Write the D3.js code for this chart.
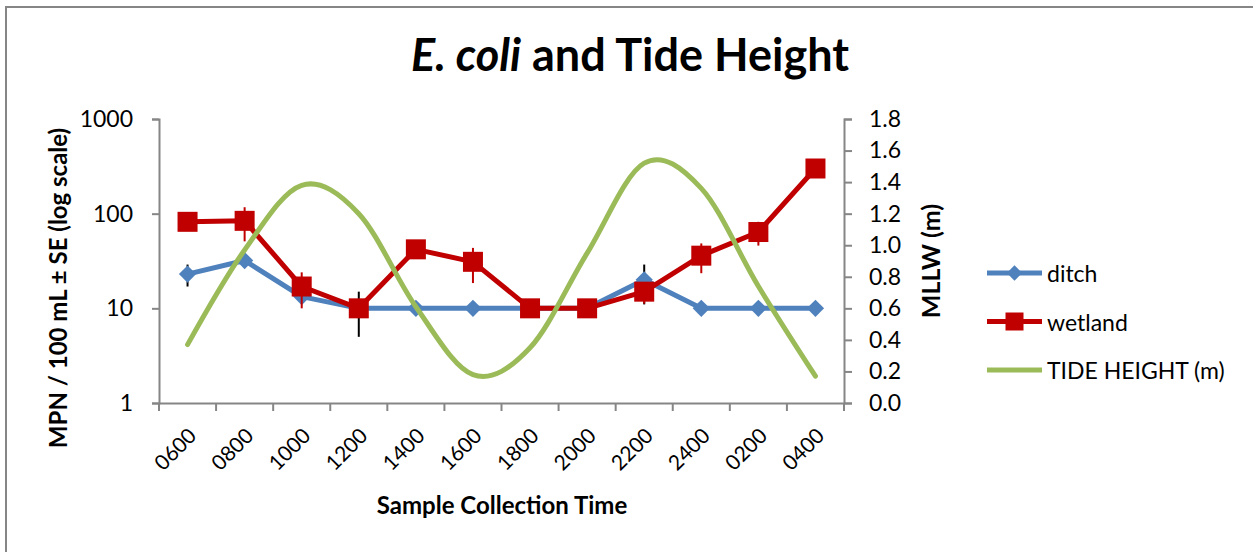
<!DOCTYPE html>
<html>
<head>
<meta charset="utf-8">
<script src="https://cdn.jsdelivr.net/npm/d3@7"></script>
<style>
  body { margin: 0; background: white; }
  text { font-family: Lato, "Open Sans", sans-serif; fill: #000; }
</style>
</head>
<body>
<div id="chart"></div>
<script>
const WIDTH = 1253, HEIGHT = 552

// data
const times = ["0600", "0800", "1000", "1200", "1400", "1600", "1800", "2000", "2200", "2400", "0200", "0400"]
const ditch = [23, 32, 13.3, 10, 10, 10, 10, 10, 20, 10, 10, 10]
const ditch_se = [6, 0, 0, 5, 0, 0, 0, 0, 9, 0, 0, 0]
const wetland = [82, 84, 17, 10, 42, 31, 10, 10, 15, 36, 64, 300]
const wetland_se = [0, 33, 7, 0, 0, 12.5, 0, 0, 3.8, 12.5, 18, 0]
const tide = [0.37, 0.97, 1.38, 1.20, 0.61, 0.18, 0.35, 0.95, 1.52, 1.36, 0.74, 0.17]
const log_ticks = [1, 10, 100, 1000]
const tide_ticks = [0, 0.2, 0.4, 0.6, 0.8, 1.0, 1.2, 1.4, 1.6, 1.8]

const LEFT = 159, RIGHT = 844, TOP = 119, BOTTOM = 403
const AXIS = "#868686"
const colors = {"ditch": "#4F81BD", "wetland": "#C00000", "tide": "#9BBB59"}

const svg = d3.select("#chart").append("svg").attr("width", WIDTH).attr("height", HEIGHT)

// chart border (runs off the right and bottom edge)
svg.append("rect").attr("x", 6).attr("y", 7).attr("width", WIDTH + 20).attr("height", HEIGHT + 20)
  .attr("fill", "none").attr("stroke", AXIS).attr("stroke-width", 2)

// scales
const x_scale = d3.scaleBand().domain(times).range([LEFT, RIGHT])
const y_scale = d3.scaleLog().domain([1, 1000]).range([BOTTOM, TOP])
const y2_scale = d3.scaleLinear().domain([0, 1.8]).range([BOTTOM, TOP])
const cx = t => x_scale(t) + x_scale.bandwidth() / 2

// Title
const title = svg.append("text").attr("x", 630).attr("y", 71).attr("text-anchor", "middle")
  .attr("font-size", "45px").attr("font-weight", "bold")
title.append("tspan").attr("font-style", "italic").text("E. coli")
title.append("tspan").text(" and Tide Height")

// Left log axis
const gen_y = d3.axisLeft(y_scale).tickValues(log_ticks).tickFormat(d3.format("d")).tickSize(7).tickPadding(19)
const y_axis = svg.append("g").attr("transform", "translate(" + LEFT + ",0)").call(gen_y)
y_axis.selectAll("text").attr("font-size", "23px").attr("font-family", "Lato")

// Right tide axis
const gen_y2 = d3.axisRight(y2_scale).tickValues(tide_ticks).tickFormat(d3.format(".1f")).tickSize(8).tickPadding(17)
const y2_axis = svg.append("g").attr("transform", "translate(" + RIGHT + ",0)").call(gen_y2)
y2_axis.selectAll("text").attr("font-size", "23px").attr("font-family", "Lato")

// Bottom category axis, ticks sit between categories
const gen_x = d3.axisBottom(x_scale).tickSize(0).tickPadding(0)
const x_axis = svg.append("g").attr("transform", "translate(0," + BOTTOM + ")").call(gen_x)
x_axis.selectAll(".tick text").attr("font-size", "21px").attr("font-family", "Lato")
  .attr("text-anchor", "end").attr("dy", "0.35em")
  .attr("transform", "translate(5,29) rotate(-45)")
x_axis.selectAll("line.between").data(times.concat(["end"])).enter().append("line").attr("class", "between")
  .attr("x1", (d, i) => LEFT + i * x_scale.bandwidth()).attr("x2", (d, i) => LEFT + i * x_scale.bandwidth())
  .attr("y1", 0).attr("y2", 8)

svg.selectAll(".domain, .tick line, line.between").attr("stroke", AXIS).attr("stroke-width", 2)

// Axis titles
svg.append("text").attr("transform", "translate(57,288) rotate(-90)").attr("text-anchor", "middle")
  .attr("dominant-baseline", "central").attr("font-size", "24px").attr("font-weight", "bold")
  .text("MPN / 100 mL \u00b1 SE (log scale)")
svg.append("text").attr("transform", "translate(930,261) rotate(-90)").attr("text-anchor", "middle")
  .attr("dominant-baseline", "central").attr("font-size", "25px").attr("font-weight", "bold")
  .text("MLLW (m)")
svg.append("text").attr("x", 502).attr("y", 514).attr("text-anchor", "middle")
  .attr("font-size", "24px").attr("font-weight", "bold").text("Sample Collection Time")

// series
const line = d3.line().x((d, i) => cx(times[i])).y(d => y_scale(d))
const tide_line = d3.line().x((d, i) => cx(times[i])).y(d => y2_scale(d)).curve(d3.curveCatmullRom.alpha(0))
const diamond = d3.symbol().type(d3.symbolDiamond2).size(190)

function errorBars(vals, se, color) {
  svg.append("g").selectAll("line").data(vals).enter().append("line")
    .attr("x1", (d, i) => cx(times[i])).attr("x2", (d, i) => cx(times[i]))
    .attr("y1", (d, i) => y_scale(d + se[i])).attr("y2", (d, i) => y_scale(Math.max(d - se[i], 1)))
    .attr("stroke", color).attr("stroke-width", 2)
}

// ditch
errorBars(ditch, ditch_se, "#000")
svg.append("path").datum(ditch).attr("d", line).attr("fill", "none")
  .attr("stroke", colors.ditch).attr("stroke-width", 5).attr("stroke-linejoin", "round")
svg.append("g").selectAll("path").data(ditch).enter().append("path").attr("d", diamond)
  .attr("transform", (d, i) => "translate(" + cx(times[i]) + "," + y_scale(d) + ")").attr("fill", colors.ditch)

// wetland
errorBars(wetland, wetland_se, colors.wetland)
svg.append("path").datum(wetland).attr("d", line).attr("fill", "none")
  .attr("stroke", colors.wetland).attr("stroke-width", 5).attr("stroke-linejoin", "round")
svg.append("g").selectAll("rect").data(wetland).enter().append("rect")
  .attr("x", (d, i) => cx(times[i]) - 10).attr("y", d => y_scale(d) - 10)
  .attr("width", 20).attr("height", 20).attr("fill", colors.wetland)

// tide height
svg.append("path").datum(tide).attr("d", tide_line).attr("fill", "none")
  .attr("stroke", colors.tide).attr("stroke-width", 5).attr("stroke-linecap", "round")

// legend
const legend_items = [["ditch", "ditch"], ["wetland", "wetland"], ["tide", "TIDE HEIGHT (m)"]]
legend_items.forEach((item, i) => {
  const row = svg.append("g").attr("transform", "translate(987," + (273 + i * 48.5) + ")")
  row.append("line").attr("x1", 0).attr("x2", 55).attr("stroke", colors[item[0]]).attr("stroke-width", 5)
  if (item[0] == "ditch") row.append("path").attr("d", d3.symbol().type(d3.symbolDiamond2).size(150)).attr("transform", "translate(27.5,0)").attr("fill", colors.ditch)
  if (item[0] == "wetland") row.append("rect").attr("x", 18.5).attr("y", -9).attr("width", 18).attr("height", 18).attr("fill", colors.wetland)
  row.append("text").attr("x", 60).attr("dominant-baseline", "central").attr("font-size", "23px").text(item[1])
})
</script>
</body>
</html>
